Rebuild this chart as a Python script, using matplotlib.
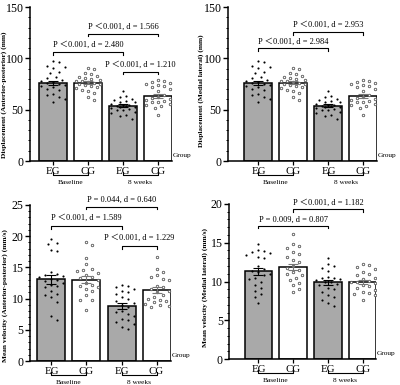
import numpy as np
import matplotlib
matplotlib.use('Agg')
import matplotlib.pyplot as plt
from matplotlib.ticker import MultipleLocator

plt.rcParams['font.family'] = ['Liberation Serif', 'Noto Sans CJK SC', 'DejaVu Sans']

# ---------------- data ----------------
group_labels = ['EG', 'CG', 'EG', 'CG']
period_labels = ['Baseline', '8 weeks']

# Displacement (Anterior-posterior) (mm)
ap_disp_means = [76.0, 76.2, 54.0, 63.5]
ap_disp_sem = [2.4, 1.6, 1.3, 2.2]
ap_disp_eg_base = [97, 96, 93, 92, 91, 87, 86, 82, 81, 79, 78, 77, 76, 75, 74, 73, 72, 70, 69, 65, 64, 62, 60, 57]
ap_disp_cg_base = [91, 90, 86, 85, 83, 82, 81, 80, 79, 78, 78, 77, 76, 75, 75, 74, 73, 72, 71, 69, 68, 66, 62, 59]
ap_disp_eg_8w = [68, 63, 62, 60, 59, 58, 57, 57, 56, 55, 55, 54, 54, 53, 53, 52, 51, 50, 50, 48, 47, 45, 44, 41]
ap_disp_cg_8w = [79, 78, 77, 76, 75, 74, 73, 72, 70, 68, 64, 62, 61, 60, 59, 58, 57, 57, 56, 55, 54, 52, 45]

# Displacement (Medial lateral) (mm)
ml_disp_means = [76.0, 76.2, 54.0, 63.5]
ml_disp_sem = [2.4, 1.6, 1.3, 2.2]
ml_disp_eg_base = [97, 96, 93, 92, 91, 87, 86, 82, 81, 79, 78, 77, 76, 75, 74, 73, 72, 70, 69, 65, 64, 62, 60, 57]
ml_disp_cg_base = [91, 90, 86, 85, 83, 82, 81, 80, 79, 78, 78, 77, 76, 75, 75, 74, 73, 72, 71, 69, 68, 66, 62, 59]
ml_disp_eg_8w = [68, 63, 62, 60, 59, 58, 57, 57, 56, 55, 55, 54, 54, 53, 53, 52, 51, 50, 50, 48, 47, 45, 44, 41]
ml_disp_cg_8w = [79, 78, 77, 76, 75, 74, 73, 72, 70, 68, 64, 62, 61, 60, 59, 58, 57, 57, 56, 55, 54, 52, 45]

# Mean velocity (Anterior-posterior) (mm/s)
ap_vel_means = [13.1, 13.0, 8.8, 11.4]
ap_vel_sem = [0.7, 0.55, 0.45, 0.45]
ap_vel_eg_base = [19.6, 18.9, 18.8, 17.8, 17.6, 14.3, 14.0, 13.8, 13.6, 13.4, 13.2, 13.0, 12.8, 12.5, 12.2, 12.0, 11.8, 11.2, 10.8, 10.5, 10.2, 9.5, 7.2, 6.6]
ap_vel_cg_base = [19.0, 18.6, 16.5, 15.5, 14.8, 14.6, 14.4, 14.1, 13.8, 13.5, 13.3, 13.0, 12.5, 12.2, 12.0, 11.8, 11.5, 11.2, 10.5, 9.8, 9.8, 8.2]
ap_vel_eg_8w = [12.2, 12.0, 11.8, 11.6, 11.2, 11.0, 10.8, 10.2, 10.0, 9.6, 9.3, 9.0, 8.6, 8.0, 7.8, 7.5, 7.2, 6.8, 6.5, 6.2, 6.0, 5.5, 5.2]
ap_vel_cg_8w = [16.6, 14.8, 14.3, 13.8, 13.5, 13.2, 13.0, 12.0, 11.8, 11.5, 11.2, 11.0, 10.6, 10.2, 10.0, 9.8, 9.6, 9.4, 9.2, 9.0, 8.8, 8.6]

# Mean velocity (Medial lateral) (mm/s)
ml_vel_means = [11.3, 11.9, 9.9, 9.9]
ml_vel_sem = [0.45, 0.4, 0.35, 0.25]
ml_vel_eg_base = [14.8, 14.0, 13.9, 13.8, 13.7, 13.4, 13.2, 13.0, 12.0, 11.6, 11.4, 11.2, 11.0, 10.8, 10.5, 10.3, 10.0, 9.6, 9.2, 8.8, 8.4, 8.0, 7.2]
ml_vel_cg_base = [16.1, 14.9, 14.6, 14.3, 13.8, 13.5, 13.2, 12.8, 12.5, 12.0, 11.8, 11.5, 11.2, 11.0, 10.8, 10.5, 10.2, 9.8, 9.5, 9.0, 8.6]
ml_vel_eg_8w = [13.0, 12.2, 12.0, 11.8, 11.4, 10.6, 10.5, 10.4, 10.3, 10.2, 10.0, 9.9, 9.7, 9.5, 9.2, 9.0, 8.6, 8.2, 8.0, 7.6, 7.2, 6.9]
ml_vel_cg_8w = [12.3, 12.1, 11.9, 11.6, 11.2, 11.0, 10.8, 10.5, 10.3, 10.1, 10.0, 9.9, 9.8, 9.6, 9.4, 9.1, 8.9, 8.7, 8.5, 8.4, 8.2, 7.6]

# ---------------- figure ----------------
fig = plt.figure(figsize=(4.0, 3.85), dpi=100)

EG_FILL = '#a9a9a9'


def swarm_x(ax, xc, vals, d=5.8, step=3.0, maxoff=13.0):
    vals = np.asarray(vals, float)
    pix = ax.transData.transform(np.column_stack([np.full(len(vals), float(xc)), vals]))
    order = np.argsort(-vals)
    placed = []
    out = np.zeros(len(vals))
    cands = [0.0]
    for j in range(1, 25):
        if j * step <= maxoff:
            cands += [j * step, -j * step]
    for i in order:
        y = pix[i, 1]
        best = None
        bestd = -1
        chosen = None
        for c in cands:
            md = min([np.hypot(c - px, y - py) for px, py in placed] + [99.0])
            if md >= d:
                chosen = c
                break
            if md > bestd:
                bestd = md
                best = c
        if chosen is None:
            chosen = best
        placed.append((chosen, y))
        out[i] = pix[i, 0] + chosen
    inv = ax.transData.inverted()
    return inv.transform(np.column_stack([out, pix[:, 1]]))[:, 0]


def panel(rect, xlim, ylim, major, minor, ylabel, ylab_pos, means, sems, pts, brackets):
    ax = fig.add_axes(rect)
    ax.set_xlim(*xlim)
    ax.set_ylim(*ylim)
    for s in ['top', 'right']:
        ax.spines[s].set_visible(False)
    for s in ['left', 'bottom']:
        ax.spines[s].set_linewidth(1.1)
    x = np.arange(4)
    fills = [EG_FILL, 'white', EG_FILL, 'white']
    ax.bar(x, means, width=0.8, color=fills, edgecolor='black', linewidth=1.1, zorder=2)
    for i in range(4):
        xs = swarm_x(ax, x[i], pts[i])
        if i % 2 == 0:
            ax.scatter(xs, pts[i], s=2.4, c='black', linewidths=0, zorder=3)
        else:
            ax.scatter(xs, pts[i], s=3.2, facecolors='white', edgecolors='#555555', linewidths=0.6, zorder=3)
        ax.errorbar(x[i], means[i], yerr=sems[i], fmt='none', ecolor='black' if i % 2 == 0 else '#777777',
                    elinewidth=0.8, capsize=3.5, capthick=0.8, zorder=4)
    ax.set_xticks(x)
    ax.set_xticklabels(group_labels, fontsize=7.8)
    ax.tick_params(axis='x', length=3, width=0.9, pad=1.5)
    ax.yaxis.set_major_locator(MultipleLocator(major))
    ax.yaxis.set_minor_locator(MultipleLocator(minor))
    ax.tick_params(axis='y', which='major', length=3.5, width=1.0, labelsize=8.6, pad=1)
    ax.tick_params(axis='y', which='minor', length=1.8, width=0.7)
    ax.text(ylab_pos[0], ylab_pos[1], ylabel, transform=ax.transAxes, rotation=90,
            ha='center', va='center', fontsize=5.3, fontweight='bold')
    hpx = ax.bbox.height
    # group brackets below axis
    tr = ax.get_xaxis_transform()
    for k, lab in enumerate(period_labels):
        x1, x2 = 2 * k, 2 * k + 1
        yb = -14.0 / hpx
        ye = -11.0 / hpx
        ax.plot([x1, x1, x2, x2], [ye, yb, yb, ye], color='black', lw=0.8, transform=tr, clip_on=False)
        ax.text((x1 + x2) / 2, -21.0 / hpx, lab, transform=tr, ha='center', va='center', fontsize=5.3)
    ax.text(1.005, 6.0 / hpx, 'Group', transform=ax.transAxes, ha='left', va='center', fontsize=5.3)
    # significance brackets
    tick = (ylim[1] - ylim[0]) * 0.016
    for (x1, x2, yb, yt, txt) in brackets:
        ax.plot([x1, x1, x2, x2], [yb - tick, yb, yb, yb - tick], color='black', lw=0.8, clip_on=False, zorder=5)
        ax.text((x1 + x2) / 2, yt, txt, ha='center', va='center', fontsize=6, clip_on=False)
    return ax


panel([0.075, 1 - 161 / 385, 142 / 400, 154 / 385], (-0.657, 3.4), (0, 150), 50, 10,
      'Displacement (Anterior-posterior) (mm)', (-0.185, 0.43),
      ap_disp_means, ap_disp_sem,
      [ap_disp_eg_base, ap_disp_cg_base, ap_disp_eg_8w, ap_disp_cg_8w],
      [(0, 2, 106, 113, 'P \uff1c0.001, d = 2.480'),
       (1, 3, 124, 130.5, 'P \uff1c0.001, d = 1.566'),
       (2, 3, 87, 93.5, 'P \uff1c0.001, d = 1.210')])

panel([228 / 400, 1 - 161 / 385, 149 / 400, 154 / 385], (-0.871, 3.386), (0, 150), 50, 10,
      'Displacement (Medial lateral) (mm)', (-0.182, 0.456),
      ml_disp_means, ml_disp_sem,
      [ml_disp_eg_base, ml_disp_cg_base, ml_disp_eg_8w, ml_disp_cg_8w],
      [(0, 2, 110, 116.5, 'P \uff1c0.001, d = 2.984'),
       (1, 3, 125.6, 132.5, 'P \uff1c0.001, d = 2.953')])

panel([0.075, 1 - 361 / 385, 141 / 400, 156 / 385], (-0.614, 3.414), (0, 25), 5, 1,
      'Mean velocity (Anterior-posterior) (mm/s)', (-0.177, 0.417),
      ap_vel_means, ap_vel_sem,
      [ap_vel_eg_base, ap_vel_cg_base, ap_vel_eg_8w, ap_vel_cg_8w],
      [(0, 2, 21.6, 22.9, 'P \uff1c0.001, d = 1.589'),
       (1, 3, 24.7, 25.8, 'P = 0.044, d = 0.640'),
       (2, 3, 18.4, 19.7, 'P \uff1c0.001, d = 1.229')])

panel([229 / 400, 1 - 359 / 385, 147 / 400, 155 / 385], (-0.85, 3.386), (0, 20), 5, 1,
      'Mean velocity (Medial lateral) (mm/s)', (-0.163, 0.46),
      ml_vel_means, ml_vel_sem,
      [ml_vel_eg_base, ml_vel_cg_base, ml_vel_eg_8w, ml_vel_cg_8w],
      [(0, 2, 17.2, 17.95, 'P = 0.009, d = 0.807'),
       (1, 3, 19.35, 20.1, 'P \uff1c0.001, d = 1.182')])

fig.savefig('out.png', dpi=100)
